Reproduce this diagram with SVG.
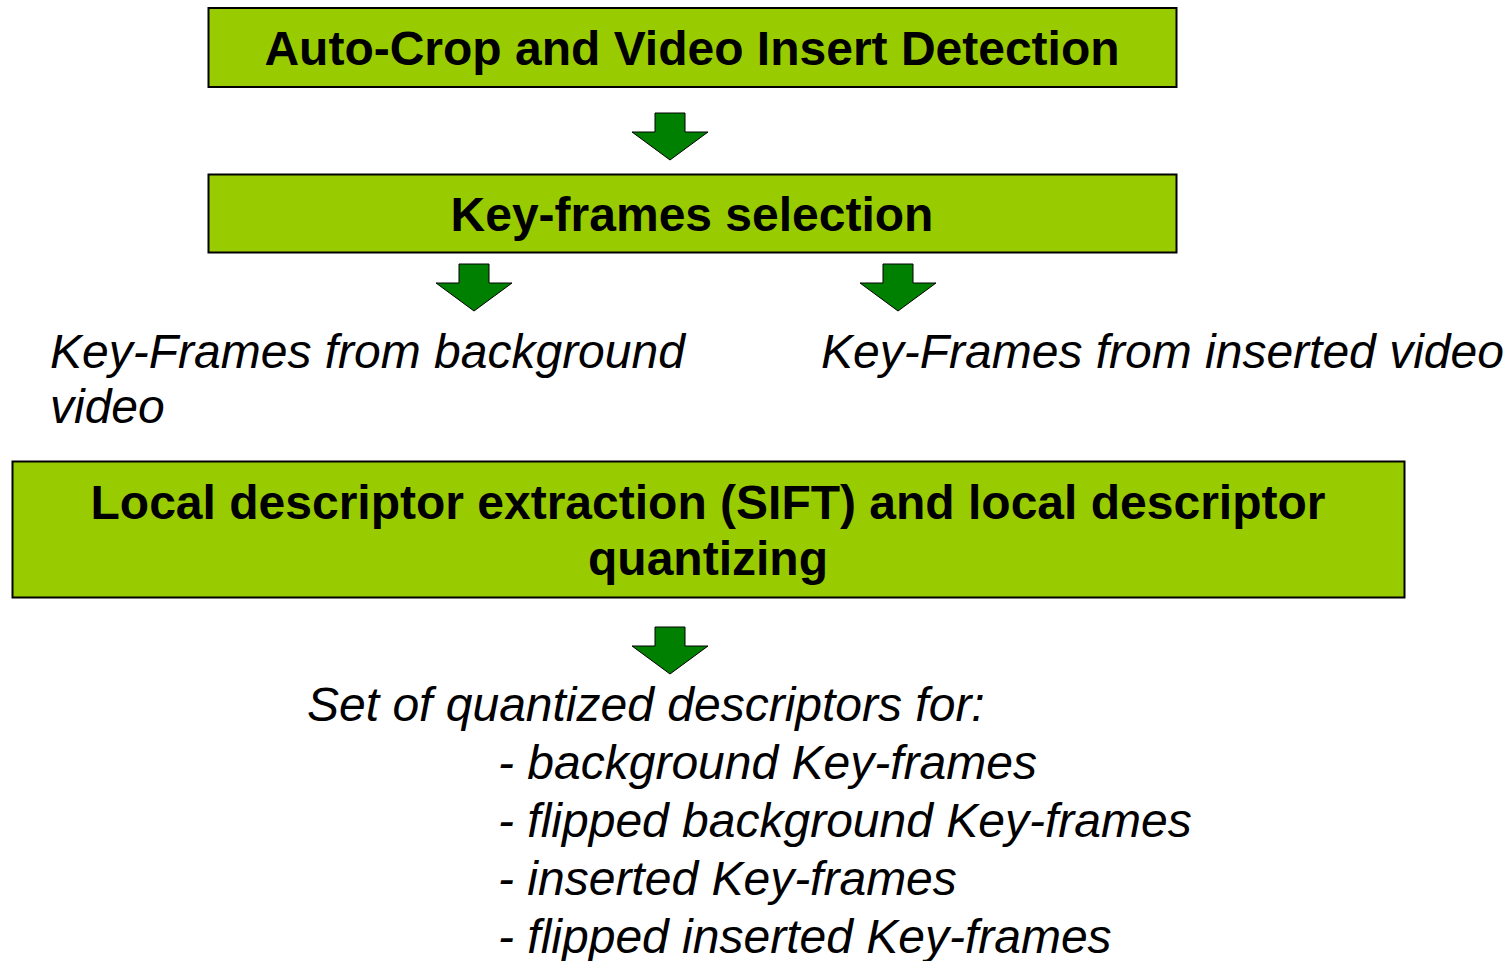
<svg xmlns="http://www.w3.org/2000/svg" width="1511" height="961" viewBox="0 0 1511 961">
<defs>
<style>
.box{fill:#99cc00;stroke:#000;stroke-width:2}
.bt{font-family:"Liberation Sans",Arial,sans-serif;font-weight:bold;font-size:48px;fill:#000;text-anchor:middle}
.it{font-family:"Liberation Sans",Arial,sans-serif;font-style:italic;font-size:48px;fill:#000}
.arr{fill:#008000;stroke:#000;stroke-width:1}
</style>
<path id="ar" class="arr" d="M-15,0 H15 V19 H38 L0,47 L-38,19 H-15 Z"/>
</defs>
<rect width="1511" height="961" fill="#fff"/>
<g id="n1">
<rect class="box" x="208.5" y="8" width="968" height="79"/>
<text class="bt" x="692" y="65">Auto-Crop and Video Insert Detection</text>
</g>
<g id="n2">
<rect class="box" x="208.5" y="174.5" width="968" height="78"/>
<text class="bt" x="692" y="231">Key-frames selection</text>
</g>
<g id="n3">
<text class="it" x="50" y="368">Key-Frames from background</text>
<text class="it" x="50" y="423">video</text>
</g>
<g id="n4">
<text class="it" x="821" y="368">Key-Frames from inserted video</text>
</g>
<g id="n5">
<rect class="box" x="12.5" y="461.5" width="1392" height="136"/>
<text class="bt" x="708" y="519">Local descriptor extraction (SIFT) and local descriptor</text>
<text class="bt" x="708" y="575">quantizing</text>
</g>
<g id="n6">
<text class="it" x="307" y="721">Set of quantized descriptors for:</text>
<text class="it" x="498" y="779">- background Key-frames</text>
<text class="it" x="498" y="837">- flipped background Key-frames</text>
<text class="it" x="498" y="895">- inserted Key-frames</text>
<text class="it" x="498" y="953">- flipped inserted Key-frames</text>
</g>
<g id="connectors">
<use href="#ar" x="670" y="113"/>
<use href="#ar" x="474" y="264"/>
<use href="#ar" x="898" y="264"/>
<use href="#ar" x="670" y="627"/>
</g>
</svg>
